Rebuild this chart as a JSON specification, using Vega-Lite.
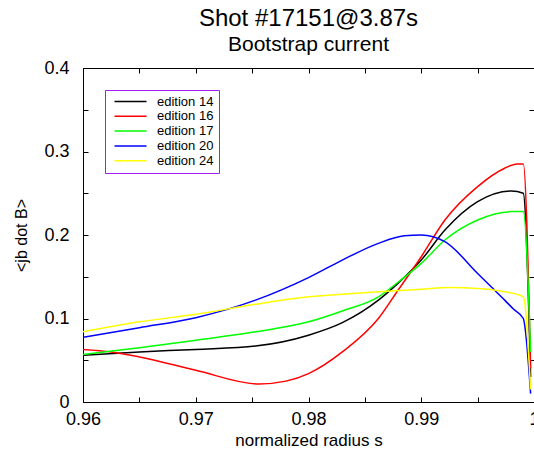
{
  "$schema": "https://vega.github.io/schema/vega-lite/v6.json",
  "autosize": {"type": "none"},
  "padding": {"top": 68, "left": 83, "right": 0, "bottom": 53},
  "width": 451,
  "height": 334,
  "background": "white",
  "title": {
    "text": "Shot #17151@3.87s",
    "subtitle": "Bootstrap current",
    "anchor": "middle",
    "frame": "group",
    "font": "Liberation Sans",
    "fontSize": 24,
    "fontWeight": "normal",
    "color": "black",
    "subtitleFont": "Liberation Sans",
    "subtitleFontSize": 21,
    "subtitleColor": "black",
    "subtitlePadding": 3,
    "offset": 4
  },
  "config": {
    "view": {"stroke": null},
    "font": "Liberation Sans",
    "axis": {
      "domainColor": "black",
      "tickColor": "black",
      "labelColor": "black",
      "titleColor": "black",
      "grid": false,
      "tickSize": -5,
      "labelFont": "Liberation Sans",
      "labelFontSize": 18,
      "titleFont": "Liberation Sans",
      "titleFontWeight": "normal"
    },
    "legend": {
      "orient": "none",
      "legendX": 22,
      "legendY": 22,
      "strokeColor": "#a020f0",
      "fillColor": "white",
      "padding": 5,
      "symbolType": "M-0.5,0H7.5",
      "symbolSize": 64,
      "symbolStrokeWidth": 1.5,
      "labelFont": "Liberation Sans",
      "labelFontSize": 13,
      "labelColor": "black",
      "labelOffset": 34,
      "rowPadding": 0.8,
      "title": null
    }
  },
  "data": {
    "values": [
      {"s": 0.96, "v": 0.056, "edition": "edition 14"},
      {"s": 0.965, "v": 0.060, "edition": "edition 14"},
      {"s": 0.97, "v": 0.063, "edition": "edition 14"},
      {"s": 0.9753, "v": 0.067, "edition": "edition 14"},
      {"s": 0.98, "v": 0.080, "edition": "edition 14"},
      {"s": 0.983, "v": 0.095, "edition": "edition 14"},
      {"s": 0.9862, "v": 0.122, "edition": "edition 14"},
      {"s": 0.988, "v": 0.143, "edition": "edition 14"},
      {"s": 0.99, "v": 0.170, "edition": "edition 14"},
      {"s": 0.9921, "v": 0.206, "edition": "edition 14"},
      {"s": 0.995, "v": 0.240, "edition": "edition 14"},
      {"s": 0.998, "v": 0.2527, "edition": "edition 14"},
      {"s": 0.99905, "v": 0.250, "edition": "edition 14"},
      {"s": 0.9997, "v": 0.03, "edition": "edition 14"},

      {"s": 0.96, "v": 0.063, "edition": "edition 16"},
      {"s": 0.9625, "v": 0.060, "edition": "edition 16"},
      {"s": 0.965, "v": 0.054, "edition": "edition 16"},
      {"s": 0.97, "v": 0.038, "edition": "edition 16"},
      {"s": 0.9756, "v": 0.0216, "edition": "edition 16"},
      {"s": 0.978, "v": 0.025, "edition": "edition 16"},
      {"s": 0.98, "v": 0.034, "edition": "edition 16"},
      {"s": 0.983, "v": 0.060, "edition": "edition 16"},
      {"s": 0.9862, "v": 0.100, "edition": "edition 16"},
      {"s": 0.988, "v": 0.135, "edition": "edition 16"},
      {"s": 0.99, "v": 0.174, "edition": "edition 16"},
      {"s": 0.9921, "v": 0.218, "edition": "edition 16"},
      {"s": 0.995, "v": 0.258, "edition": "edition 16"},
      {"s": 0.9974, "v": 0.280, "edition": "edition 16"},
      {"s": 0.9985, "v": 0.285, "edition": "edition 16"},
      {"s": 0.99905, "v": 0.285, "edition": "edition 16"},
      {"s": 0.9997, "v": 0.04, "edition": "edition 16"},

      {"s": 0.96, "v": 0.057, "edition": "edition 17"},
      {"s": 0.965, "v": 0.065, "edition": "edition 17"},
      {"s": 0.97, "v": 0.074, "edition": "edition 17"},
      {"s": 0.9753, "v": 0.084, "edition": "edition 17"},
      {"s": 0.98, "v": 0.096, "edition": "edition 17"},
      {"s": 0.983, "v": 0.109, "edition": "edition 17"},
      {"s": 0.9862, "v": 0.126, "edition": "edition 17"},
      {"s": 0.988, "v": 0.144, "edition": "edition 17"},
      {"s": 0.99, "v": 0.166, "edition": "edition 17"},
      {"s": 0.9921, "v": 0.194, "edition": "edition 17"},
      {"s": 0.995, "v": 0.218, "edition": "edition 17"},
      {"s": 0.998, "v": 0.228, "edition": "edition 17"},
      {"s": 0.99905, "v": 0.228, "edition": "edition 17"},
      {"s": 0.9997, "v": 0.06, "edition": "edition 17"},

      {"s": 0.96, "v": 0.0775, "edition": "edition 20"},
      {"s": 0.965, "v": 0.089, "edition": "edition 20"},
      {"s": 0.97, "v": 0.101, "edition": "edition 20"},
      {"s": 0.9753, "v": 0.122, "edition": "edition 20"},
      {"s": 0.98, "v": 0.149, "edition": "edition 20"},
      {"s": 0.983, "v": 0.170, "edition": "edition 20"},
      {"s": 0.9862, "v": 0.190, "edition": "edition 20"},
      {"s": 0.9885, "v": 0.199, "edition": "edition 20"},
      {"s": 0.99, "v": 0.200, "edition": "edition 20"},
      {"s": 0.9921, "v": 0.192, "edition": "edition 20"},
      {"s": 0.995, "v": 0.154, "edition": "edition 20"},
      {"s": 0.9962, "v": 0.138, "edition": "edition 20"},
      {"s": 0.9974, "v": 0.122, "edition": "edition 20"},
      {"s": 0.9982, "v": 0.111, "edition": "edition 20"},
      {"s": 0.99905, "v": 0.100, "edition": "edition 20"},
      {"s": 0.9997, "v": 0.01, "edition": "edition 20"},

      {"s": 0.96, "v": 0.084, "edition": "edition 24"},
      {"s": 0.965, "v": 0.096, "edition": "edition 24"},
      {"s": 0.97, "v": 0.105, "edition": "edition 24"},
      {"s": 0.9753, "v": 0.117, "edition": "edition 24"},
      {"s": 0.98, "v": 0.126, "edition": "edition 24"},
      {"s": 0.983, "v": 0.129, "edition": "edition 24"},
      {"s": 0.9862, "v": 0.132, "edition": "edition 24"},
      {"s": 0.99, "v": 0.135, "edition": "edition 24"},
      {"s": 0.9925, "v": 0.137, "edition": "edition 24"},
      {"s": 0.995, "v": 0.136, "edition": "edition 24"},
      {"s": 0.9974, "v": 0.132, "edition": "edition 24"},
      {"s": 0.99905, "v": 0.126, "edition": "edition 24"},
      {"s": 0.9997, "v": 0.015, "edition": "edition 24"}
    ]
  },
  "layer": [
    {
      "mark": {"type": "line", "strokeWidth": 1.5, "clip": true, "interpolate": "monotone"},
      "encoding": {
        "x": {
          "field": "s", "type": "quantitative",
          "scale": {"domain": [0.96, 1.0], "nice": false, "zero": false},
          "axis": {
            "orient": "bottom",
            "values": [0.96, 0.965, 0.97, 0.975, 0.98, 0.985, 0.99, 0.995, 1.0],
            "format": "~g",
            "labelExpr": "abs(datum.value*100 - round(datum.value*100)) < 0.01 ? datum.label : ''",
            "labelPadding": 13,
            "labelFlush": false,
            "labelOverlap": false,
            "title": "normalized radius s",
            "titleFontSize": 17,
            "titlePadding": 4
          }
        },
        "y": {
          "field": "v", "type": "quantitative",
          "scale": {"domain": [0, 0.4], "nice": false},
          "axis": {
            "orient": "left",
            "values": [0, 0.05, 0.1, 0.15, 0.2, 0.25, 0.3, 0.35, 0.4],
            "format": "~g",
            "labelExpr": "abs(datum.value*10 - round(datum.value*10)) < 0.01 ? datum.label : ''",
            "labelPadding": 19,
            "labelFlush": false,
            "labelOverlap": false,
            "title": "<jb dot B>",
            "titleFontSize": 16,
            "titlePadding": 14
          }
        },
        "color": {
          "field": "edition", "type": "nominal",
          "scale": {
            "domain": ["edition 14", "edition 16", "edition 17", "edition 20", "edition 24"],
            "range": ["#000000", "#ff0000", "#00ff00", "#0000ff", "#ffff00"]
          },
          "legend": {"title": null}
        }
      }
    },
    {
      "mark": {"type": "line", "opacity": 0},
      "encoding": {
        "x": {
          "field": "s", "type": "quantitative",
          "axis": {
            "orient": "top",
            "values": [0.96, 0.965, 0.97, 0.975, 0.98, 0.985, 0.99, 0.995, 1.0],
            "labels": false,
            "title": null
          }
        },
        "y": {
          "field": "v", "type": "quantitative",
          "axis": {
            "orient": "right",
            "values": [0, 0.05, 0.1, 0.15, 0.2, 0.25, 0.3, 0.35, 0.4],
            "labels": false,
            "title": null
          }
        },
        "detail": {"field": "edition", "type": "nominal"}
      }
    }
  ],
  "resolve": {"axis": {"x": "independent", "y": "independent"}}
}
